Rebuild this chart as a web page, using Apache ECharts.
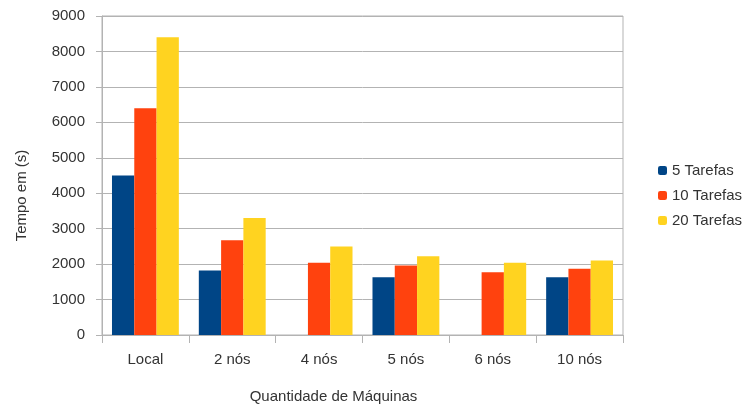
<!DOCTYPE html>
<html>
<head>
<meta charset="utf-8">
<script src="https://cdn.jsdelivr.net/npm/echarts@6/dist/echarts.min.js"></script>
<style>
  html, body { margin: 0; padding: 0; background: #fff; }
  #chart { width: 755px; height: 407px; }
</style>
</head>
<body>
<div id="chart"></div>
<script>
// dados
const categorias = ['Local', '2 nós', '4 nós', '5 nós', '6 nós', '10 nós']
const tarefas5 = [4500, 1820, null, 1630, null, 1630]
const tarefas10 = [6400, 2670, 2040, 1960, 1770, 1870]
const tarefas20 = [8400, 3300, 2500, 2220, 2040, 2100]
const yTicks = [0, 1000, 2000, 3000, 4000, 5000, 6000, 7000, 8000, 9000]

const fonte = '"Liberation Sans", Arial, sans-serif'
const cinza = '#b3b3b3'
const texto = '#333'

const myChart = echarts.init(document.getElementById('chart'))
myChart.setOption({
  animation: false,
  textStyle: { fontFamily: fonte },
  grid: {
    left: 102, right: 132, top: 16, bottom: 72,
    outerBoundsMode: 'none',
    show: true, borderColor: cinza, borderWidth: 1
  },
  legend: {
    orient: 'vertical',
    left: 653, top: 158,
    itemWidth: 9, itemHeight: 9, itemGap: 10,
    textStyle: { fontSize: 15, color: texto, fontFamily: fonte },
    data: ['5 Tarefas', '10 Tarefas', '20 Tarefas']
  },
  xAxis: {
    type: 'category',
    data: categorias,
    name: 'Quantidade de Máquinas',
    nameLocation: 'middle',
    nameGap: 54,
    nameTextStyle: { fontSize: 15, color: texto, padding: [0, 58, 0, 0] },
    axisLine: { lineStyle: { color: cinza } },
    axisTick: { show: true, length: 8, lineStyle: { color: cinza } },
    axisLabel: { fontSize: 15, color: texto, margin: 17 }
  },
  yAxis: {
    type: 'value',
    min: yTicks[0],
    max: yTicks[yTicks.length - 1],
    interval: 1000,
    name: 'Tempo em (s)',
    nameLocation: 'middle',
    nameGap: 73,
    nameTextStyle: { fontSize: 15, color: texto, padding: [0, 40, 0, 0] },
    axisLine: { show: true, lineStyle: { color: cinza } },
    axisTick: { show: true, length: 6, lineStyle: { color: cinza } },
    axisLabel: { fontSize: 15, color: texto, margin: 17, formatter: v => String(v) },
    splitLine: { lineStyle: { color: cinza } }
  },
  series: [
    { name: '5 Tarefas', type: 'bar', data: tarefas5, barGap: '0%', barCategoryGap: '23%', itemStyle: { color: '#004586' } },
    { name: '10 Tarefas', type: 'bar', data: tarefas10, itemStyle: { color: '#ff420e' } },
    { name: '20 Tarefas', type: 'bar', data: tarefas20, itemStyle: { color: '#ffd320' } }
  ]
})
</script>
</body>
</html>
